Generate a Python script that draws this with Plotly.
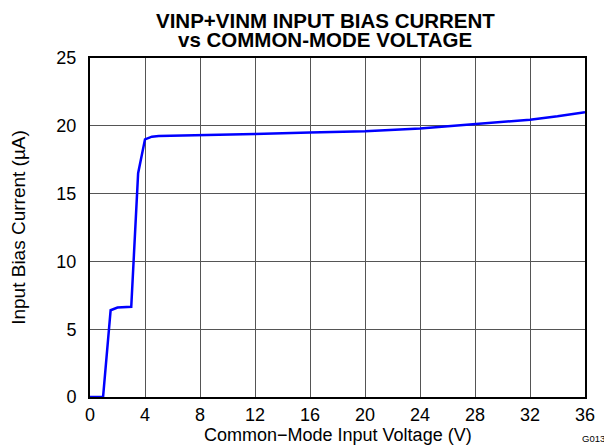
import plotly.graph_objects as go

# Common-mode input voltage (V) and input bias current (uA)
vcm = [0, 0.95, 1.5, 2.0, 3.0, 3.5, 4.0, 4.5, 5, 8, 12, 16, 20, 24, 26, 28, 30, 32, 34, 36]
ibias = [0, 0, 6.4, 6.6, 6.65, 16.5, 19.0, 19.2, 19.25, 19.3, 19.4, 19.5, 19.6, 19.8,
         19.95, 20.1, 20.25, 20.45, 20.7, 21.0]

x_ticks = list(range(0, 37, 4))
y_ticks = list(range(0, 26, 5))
title_lines = ["VINP+VINM INPUT BIAS CURRENT", "vs COMMON-MODE VOLTAGE"]

font = "Liberation Sans"

fig = go.Figure(go.Scatter(x=vcm, y=ibias, mode="lines",
                           line=dict(color="#0000ff", width=2.5)))

fig.update_layout(
    width=612, height=445,
    margin=dict(l=82, r=35, t=50, b=56),
    paper_bgcolor="white", plot_bgcolor="white",
    showlegend=False,
    font=dict(family=font, size=18, color="black"),
)
fig.update_xaxes(range=[0, 36], tickvals=x_ticks, showgrid=True, gridcolor="#555", gridwidth=1,
                 showline=True, linecolor="black", linewidth=2, mirror=True, ticks="",
                 zeroline=False, automargin=False)
fig.update_yaxes(range=[0, 25], tickvals=y_ticks, showgrid=True, gridcolor="#555", gridwidth=1,
                 showline=True, linecolor="black", linewidth=2, mirror=True, ticks="",
                 zeroline=False, ticklabelstandoff=8, automargin=False,
                 title=dict(text="Input Bias Current (\u00b5A)", standoff=26,
                            font=dict(family=font, size=19)))

# x-axis title placed by hand so it sits just above the bottom edge
fig.add_annotation(text="Common\u2212Mode Input Voltage (V)", xref="paper", yref="paper",
                   x=0.5, y=-0.112, xanchor="center", yanchor="middle", showarrow=False,
                   font=dict(family=font, size=18))

# two-line title with tight line spacing
for yy, line in zip([1.11, 1.054], title_lines):
    fig.add_annotation(text="<b>%s</b>" % line, xref="paper", yref="paper", x=0.475, y=yy,
                       xanchor="center", yanchor="middle", showarrow=False,
                       font=dict(family=font, size=20.5))

fig.add_annotation(text="G013", xref="paper", yref="paper", x=0.99, y=-0.121,
                   xanchor="left", yanchor="middle", showarrow=False,
                   font=dict(family=font, size=9.5))

fig.write_html("out.html")
